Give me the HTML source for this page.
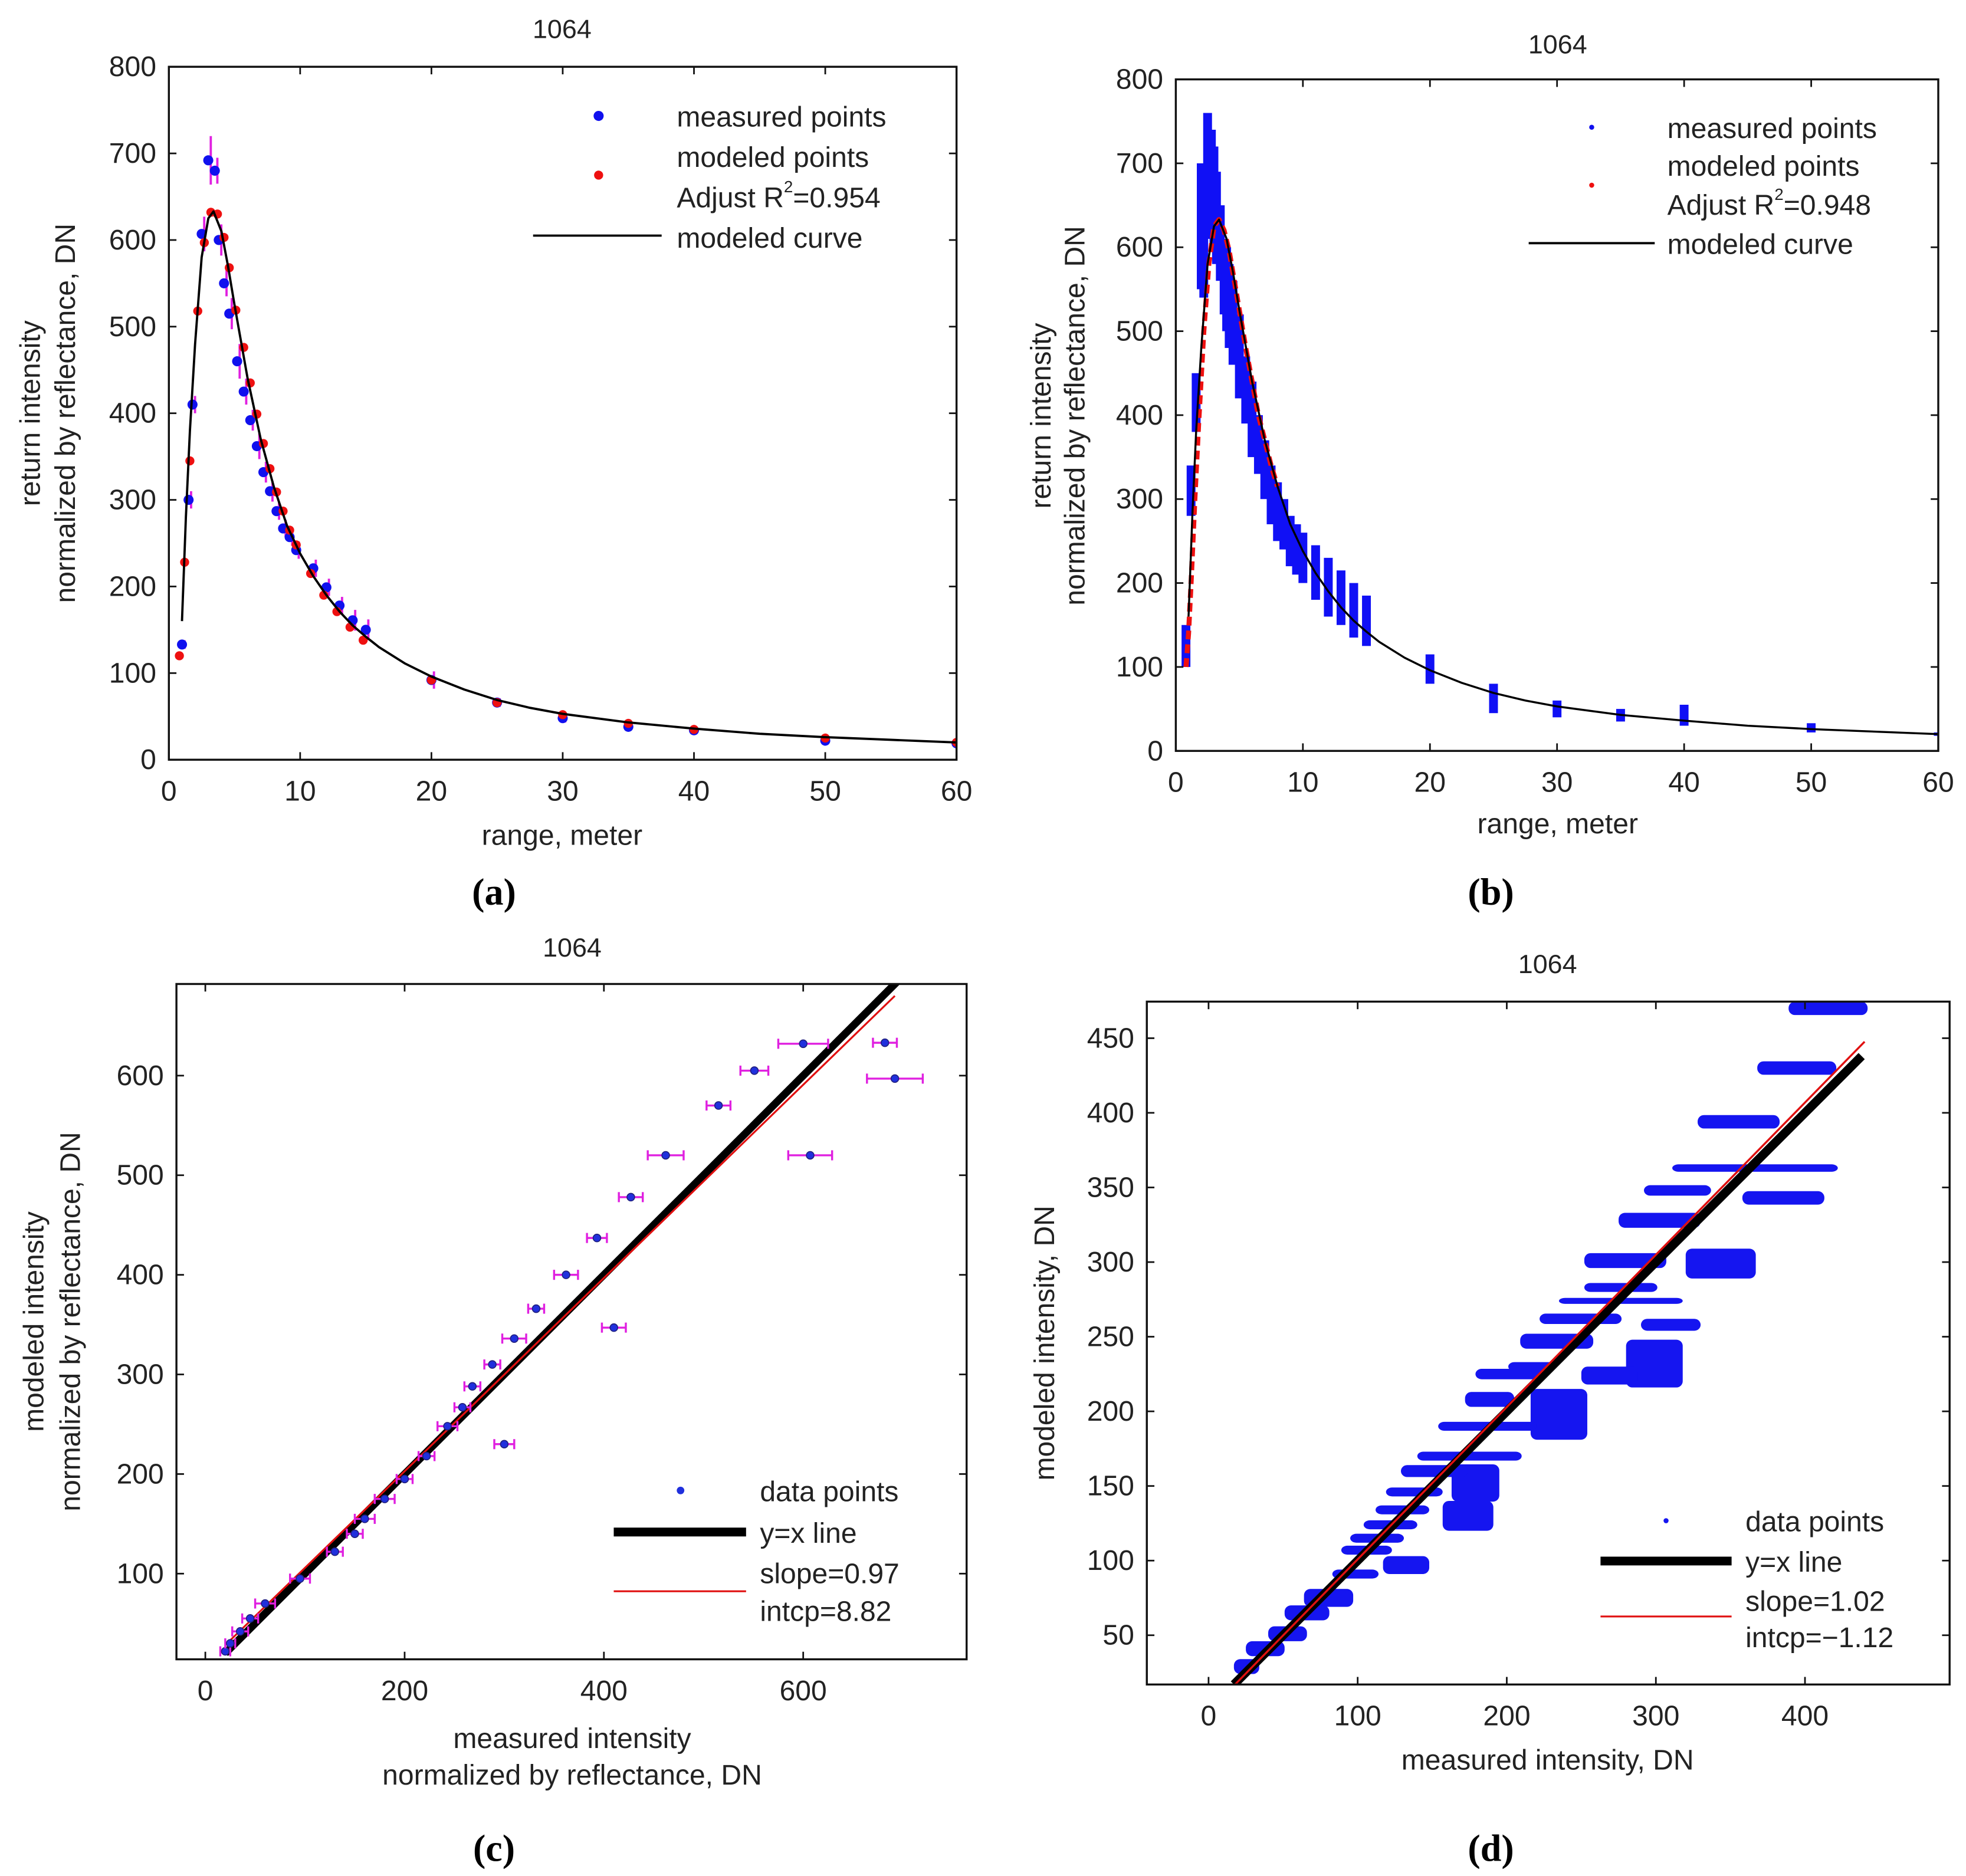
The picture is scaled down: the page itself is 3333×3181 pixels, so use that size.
<!DOCTYPE html>
<html><head><meta charset="utf-8"><style>
html,body{margin:0;padding:0;background:#fff}
svg{display:block}
text{font-family:"Liberation Sans",sans-serif;fill:#222}
.serif{font-family:"Liberation Serif",serif;fill:#000;font-weight:bold}
</style></head><body>
<svg id="fig" xmlns="http://www.w3.org/2000/svg" width="3333" height="3181" viewBox="0 0 1560 1489" preserveAspectRatio="none"></svg>
<script>
// ---- Panel (a) data ----
const aMeasX=[1,1.5,1.8,2.5,3,3.5,3.8,4.2,4.6,5.2,5.7,6.2,6.7,7.2,7.7,8.2,8.7,9.2,9.7,11,12,13,14,15,20,25,30,35,40,50,60];
const aMeasY=[133,300,410,607,692,680,600,550,515,460,425,392,362,332,310,287,267,257,242,221,199,178,161,150,92,66,48,38,34,22,19];
const aMeasErr=[5,10,10,20,28,15,18,15,18,20,15,12,15,12,12,10,10,10,10,10,10,10,12,12,10,5,5,4,3,3,2];
const aModX=[0.8,1.2,1.6,2.2,2.7,3.2,3.7,4.2,4.6,5.1,5.7,6.2,6.7,7.2,7.7,8.2,8.7,9.2,9.7,10.8,11.8,12.8,13.8,14.8,20,25,30,35,40,50,60];
const aModY=[120,228,345,518,597,632,630,603,568,519,476,435,399,365,336,309,287,265,248,215,190,171,153,138,92,66,52,42,35,25,20];
const curveX=[1.0,1.3,1.6,2,2.5,3,3.4,4,4.5,5,6,7,8,9,10,11,12,13,14,15,16,18,20,22.5,25,27.5,30,35,40,45,50,55,60];
const curveY=[160,280,380,480,580,625,633,610,570,525,440,370,315,270,238,212,190,171,155,142,130,111,96,81,69,60,53,43,36,30,26,23,20];
// ---- Panel (b) data: measured clusters (range, min, max) ----
const bX=[0.8,1.2,1.6,2,2.2,2.5,2.8,3,3.2,3.5,3.8,4,4.2,4.5,5,5.5,6,6.5,7,7.5,8,8.5,9,9.5,10,11,12,13,14,15,20,25,30,35,40,50,60];
const bMin=[100,280,380,550,540,640,610,600,580,560,520,500,480,460,420,390,350,330,300,270,250,240,220,210,200,180,160,150,135,125,80,45,40,35,30,22,18];
const bMax=[150,340,450,700,680,760,740,720,690,650,610,600,580,560,520,470,440,400,370,340,320,300,280,270,260,245,230,215,200,185,115,80,60,50,55,33,22];
const bModX=[0.8,1,1.2,1.5,1.8,2.2,2.6,3,3.4,3.8,4.2,4.6,5,5.5,6,6.5,7,7.5,8];
const bModY=[100,140,200,300,390,500,580,625,633,620,595,560,525,480,440,400,370,340,315];
// ---- Panel (c) data ----
const cX=[20,25,35,45,60,95,130,150,160,180,200,222,243,258,268,288,310,332,362,393,410,427,462,515,551,607,600,682,692,300];
const cY=[22,30,42,55,70,95,122,140,155,175,195,218,248,267,288,310,336,366,400,437,347,478,520,570,605,520,632,633,597,230];
const cErr=[5,5,8,8,10,10,8,8,10,10,8,8,10,8,8,8,12,8,12,10,12,12,18,12,14,22,25,12,28,10];
const cSlope=[0.97];const cIntcp=[8.82];
// ---- Panel (d) data: clusters (xmin, xmax, ycenter, height) ----
const dXmin=[389,368,328,311,358,292,275,320,252,252,235,222,290,209,280,250,201,179,172,216,154,140,163,129,157,119,112,104,95,117,89,83,64,51,40,25,17];
const dXmax=[442,421,383,422,413,337,330,367,307,301,318,277,330,258,318,288,233,225,205,254,220,210,195,174,191,157,148,140,131,148,123,114,97,81,66,51,34];
const dYc=[470,430,394,363,343,348,328,299,301,283,274,262,258,247,232,224,230,225,208,198,190,170,152,160,130,146,134,124,115,97,107,91,75,65,51,41,29];
const dH=[9,9,9,5,9,7,10,20,10,6,4,7,8,10,32,12,6,7,10,34,6,6,25,8,20,6,6,6,6,12,6,6,12,10,10,10,10];
const dSlope=[1.02];const dIntcp=[-1.12];

const NS="http://www.w3.org/2000/svg";
const svg=document.getElementById('fig');
function el(tag,attrs,parent){const e=document.createElementNS(NS,tag);for(const k in attrs)e.setAttribute(k,attrs[k]);(parent||svg).appendChild(e);return e;}
function txt(s,x,y,size,anchor,parent,cls){const t=el('text',{x:x,y:y,'font-size':size,'text-anchor':anchor||'middle','dominant-baseline':'central'},parent);if(cls)t.setAttribute('class',cls);t.textContent=s;return t;}
const FS=22.5;

function makeAxes(id,box,xd,yd,xt,yt){
  const g=el('g',{});
  
  
  const sx=v=>box.l+(v-xd[0])/(xd[1]-xd[0])*(box.r-box.l);
  const sy=v=>box.b-(v-yd[0])/(yd[1]-yd[0])*(box.b-box.t);
  const clipId=id+'-clip';
  const cp=el('clipPath',{id:clipId},g);el('rect',{x:box.l,y:box.t,width:box.r-box.l,height:box.b-box.t},cp);
  const plot=el('g',{'clip-path':'url(#'+clipId+')'},g);
  
  
  return {g,plot,sx,sy,box,xt,yt};
}
function finishAxes(A,id){
  const {g,box,sx,sy,xt,yt}=A;
  const f=el('rect',{x:box.l,y:box.t,width:box.r-box.l,height:box.b-box.t,fill:'none',stroke:'#111','stroke-width':1.6},g);
  
  
  xt.forEach(v=>{const x=sx(v);
    el('line',{x1:x,x2:x,y1:box.b,y2:box.b-6,stroke:'#111','stroke-width':1.3},g);
    el('line',{x1:x,x2:x,y1:box.t,y2:box.t+6,stroke:'#111','stroke-width':1.3},g);
    const t=txt(String(v),x,box.b+25,FS,'middle',g);
    
    
  });
  yt.forEach(v=>{const y=sy(v);
    el('line',{x1:box.l,x2:box.l+6,y1:y,y2:y,stroke:'#111','stroke-width':1.3},g);
    el('line',{x1:box.r,x2:box.r-6,y1:y,y2:y,stroke:'#111','stroke-width':1.3},g);
    const t=txt(String(v),box.l-10,y,FS,'end',g);
    
    
  });
}
function range(a,b,s){const r=[];for(let v=a;v<=b+1e-9;v+=s)r.push(v);return r;}
function poly(A,xs,ys,attrs,name){const d=xs.map((x,i)=>(i?'L':'M')+A.sx(x).toFixed(1)+' '+A.sy(ys[i]).toFixed(1)).join(' ');const p=el('path',Object.assign({d:d,fill:'none','stroke-linejoin':'round'},attrs),A.plot);return p;}
function vtitle(s,x,y,name){const t=el('text',{transform:'translate('+x+','+y+') rotate(-90)','font-size':FS,'text-anchor':'middle','dominant-baseline':'central'});t.textContent=s;}

// ===== Panel (a) =====
const A=makeAxes('panel-a',{l:134,r:759,t:53,b:603},[0,60],[0,800],range(0,60,10),range(0,800,100));
aMeasX.forEach((x,i)=>{const l=el('line',{x1:A.sx(x)+2,x2:A.sx(x)+2,y1:A.sy(aMeasY[i]-aMeasErr[i]),y2:A.sy(aMeasY[i]+aMeasErr[i]),stroke:'#e020e0','stroke-width':1.8},A.plot);
  });
aMeasX.forEach((x,i)=>{const c=el('circle',{cx:A.sx(x),cy:A.sy(aMeasY[i]),r:4,fill:'#1010ee'},A.plot);
  });
aModX.forEach((x,i)=>{const c=el('circle',{cx:A.sx(x),cy:A.sy(aModY[i]),r:3.6,fill:'#ee1010'},A.plot);
  });
poly(A,curveX,curveY,{stroke:'#000','stroke-width':1.8},'a-modeled-curve');
finishAxes(A,'panel-a');
txt('1064',446,23,21,'middle');
txt('range, meter',446,663,FS,'middle');
vtitle('return intensity',24,328,'a-y-axis-title');
vtitle('normalized by reflectance, DN',52,328,'a-y-axis-title-2');
{const lg=el('g',{});
 el('circle',{cx:475,cy:92,r:4,fill:'#1010ee'},lg);txt('measured points',537,93,FS,'start',lg);
 el('circle',{cx:475,cy:139,r:3.6,fill:'#ee1010'},lg);txt('modeled points',537,125,FS,'start',lg);
 const t=txt('Adjust R',537,157,FS,'start',lg);const s=el('tspan',{'font-size':13,dy:-9},t);s.textContent='2';const s2=el('tspan',{dy:9},t);s2.textContent='=0.954';
 el('line',{x1:423,x2:525,y1:187,y2:187,stroke:'#000','stroke-width':1.8},lg);txt('modeled curve',537,189,FS,'start',lg);}
txt('(a)',392,708,30,'middle',null,'serif');

// ===== Panel (b) =====
const B=makeAxes('panel-b',{l:933,r:1538,t:63,b:596},[0,60],[0,800],range(0,60,10),range(0,800,100));
bX.forEach((x,i)=>{const w=7;const r=el('rect',{x:B.sx(x)-w/2,y:B.sy(bMax[i]),width:w,height:B.sy(bMin[i])-B.sy(bMax[i]),fill:'#1010f5'},B.plot);
  });
poly(B,bModX,bModY,{stroke:'#ee1010','stroke-width':4,'stroke-dasharray':'7 4'},'b-modeled-points');
poly(B,curveX,curveY,{stroke:'#000','stroke-width':1.6},'b-modeled-curve');
finishAxes(B,'panel-b');
txt('1064',1236,35,21,'middle');
txt('range, meter',1236,654,FS,'middle');
vtitle('return intensity',826,330,'b-y-axis-title');
vtitle('normalized by reflectance, DN',853,330,'b-y-axis-title-2');
{const lg=el('g',{});
 el('circle',{cx:1263,cy:101,r:2,fill:'#1010ee'},lg);txt('measured points',1323,102,FS,'start',lg);
 el('circle',{cx:1263,cy:147,r:2,fill:'#ee1010'},lg);txt('modeled points',1323,132,FS,'start',lg);
 const t=txt('Adjust R',1323,163,FS,'start',lg);const s=el('tspan',{'font-size':13,dy:-9},t);s.textContent='2';const s2=el('tspan',{dy:9},t);s2.textContent='=0.948';
 el('line',{x1:1213,x2:1313,y1:193,y2:193,stroke:'#000','stroke-width':1.8},lg);txt('modeled curve',1323,194,FS,'start',lg);}
txt('(b)',1183,708,30,'middle',null,'serif');

// ===== Panel (c) =====
const C=makeAxes('panel-c',{l:140,r:767,t:781,b:1317},[-29,764],[14,692],[0,200,400,600],range(100,600,100));
{const x0=20,x1=700;
 const bl=el('line',{x1:C.sx(x0),y1:C.sy(x0),x2:C.sx(x1),y2:C.sy(x1),stroke:'#000','stroke-width':6},C.plot);
 const rl=el('line',{x1:C.sx(x0),y1:C.sy(cSlope[0]*x0+cIntcp[0]),x2:C.sx(692),y2:C.sy(cSlope[0]*692+cIntcp[0]),stroke:'#e01010','stroke-width':1.5},C.plot);}
cX.forEach((x,i)=>{const y=C.sy(cY[i]),xa=C.sx(x-cErr[i]),xb=C.sx(x+cErr[i]);
  const g=el('g',{stroke:'#e020e0','stroke-width':1.6},C.plot);
  el('line',{x1:xa,x2:xb,y1:y,y2:y},g);el('line',{x1:xa,x2:xa,y1:y-4,y2:y+4},g);el('line',{x1:xb,x2:xb,y1:y-4,y2:y+4},g);
  const c=el('circle',{cx:C.sx(x),cy:y,r:3,fill:'#2030dd',stroke:'#202080','stroke-width':0.8},C.plot);});
finishAxes(C,'panel-c');
txt('1064',454,752,21,'middle');
txt('measured intensity',454,1380,FS,'middle');
txt('normalized by reflectance, DN',454,1409,FS,'middle');
vtitle('modeled intensity',27,1049,'c-y-axis-title');
vtitle('normalized by reflectance, DN',56,1049,'c-y-axis-title-2');
{const lg=el('g',{});
 el('circle',{cx:540,cy:1183,r:3,fill:'#2030dd'},lg);txt('data points',603,1184,FS,'start',lg);
 el('line',{x1:487,x2:592,y1:1216,y2:1216,stroke:'#000','stroke-width':7},lg);txt('y=x line',603,1217,FS,'start',lg);
 el('line',{x1:487,x2:592,y1:1263,y2:1263,stroke:'#e01010','stroke-width':1.5},lg);txt('slope=0.97',603,1249,FS,'start',lg);txt('intcp=8.82',603,1279,FS,'start',lg);}
txt('(c)',392,1467,30,'middle',null,'serif');

// ===== Panel (d) =====
const D=makeAxes('panel-d',{l:910,r:1547,t:795,b:1337},[-41.4,497],[17,474.5],range(0,400,100),range(50,450,50));
dXmin.forEach((x,i)=>{const y0=D.sy(dYc[i]+dH[i]/2),y1=D.sy(dYc[i]-dH[i]/2);
  const r=el('rect',{x:D.sx(x),y:y0,width:D.sx(dXmax[i])-D.sx(x),height:y1-y0,rx:5,ry:Math.min(5,(y1-y0)/2),fill:'#1515f0'},D.plot);
  });
{const x0=17,x1=438;
 const bl=el('line',{x1:D.sx(x0),y1:D.sy(x0),x2:D.sx(x1),y2:D.sy(x1),stroke:'#000','stroke-width':7},D.plot);
 const rl=el('line',{x1:D.sx(x0),y1:D.sy(dSlope[0]*x0+dIntcp[0]),x2:D.sx(440),y2:D.sy(dSlope[0]*440+dIntcp[0]),stroke:'#e01010','stroke-width':1.6},D.plot);}
finishAxes(D,'panel-d');
txt('1064',1228,765,21,'middle');
txt('measured intensity, DN',1228,1397,FS,'middle');
vtitle('modeled intensity, DN',829,1066,'d-y-axis-title');
{const lg=el('g',{});
 el('circle',{cx:1322,cy:1207,r:2,fill:'#1515f0'},lg);txt('data points',1385,1208,FS,'start',lg);
 el('line',{x1:1270,x2:1374,y1:1239,y2:1239,stroke:'#000','stroke-width':7},lg);txt('y=x line',1385,1240,FS,'start',lg);
 el('line',{x1:1270,x2:1374,y1:1283,y2:1283,stroke:'#e01010','stroke-width':1.5},lg);txt('slope=1.02',1385,1271,FS,'start',lg);txt('intcp=\u22121.12',1385,1300,FS,'start',lg);}
txt('(d)',1183,1467,30,'middle',null,'serif');
</script>
</body></html>
